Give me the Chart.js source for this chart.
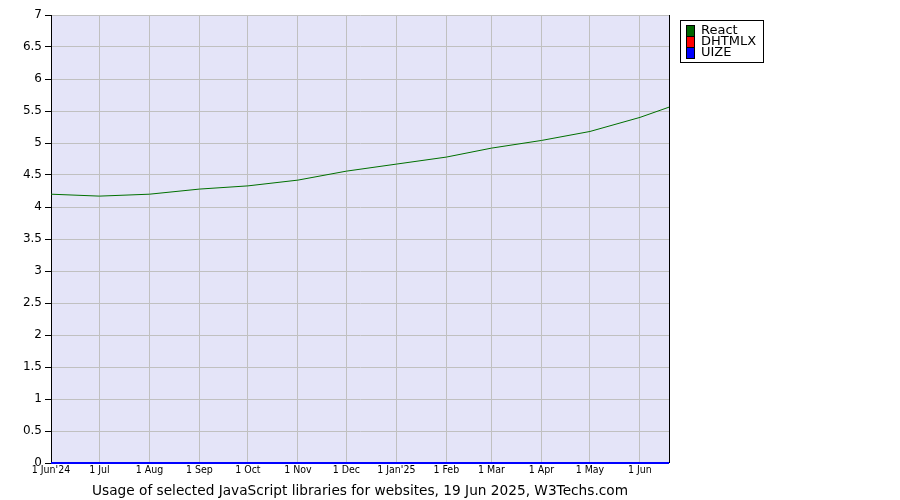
<head>
  <style>
    html,
    body {
      margin: 0;
      height: 100%;
      overflow: hidden;
      background: #fff;
    }
  </style>
</head>
<body>
  <canvas id="chart1" width="900" height="500"></canvas>
</body>
<script src="https://cdn.jsdelivr.net/npm/chart.js@4"></script>
<script>
  // days since 1 Jun 2024
  const days = [0, 30, 61, 92, 122, 153, 183, 214, 245, 273, 304, 334, 365, 383]
  const react = [4.2, 4.17, 4.2, 4.28, 4.33, 4.42, 4.56, 4.67, 4.78, 4.92, 5.04, 5.18, 5.4, 5.56]
  const dhtmlx = [0, 0, 0, 0, 0, 0, 0, 0, 0, 0, 0, 0, 0, 0]
  const uize = [0, 0, 0, 0, 0, 0, 0, 0, 0, 0, 0, 0, 0, 0]
  const monthDays = [0, 30, 61, 92, 122, 153, 183, 214, 245, 273, 304, 334, 365]
  const monthLabels = ['1 Jun\'24', '1 Jul', '1 Aug', '1 Sep', '1 Oct', '1 Nov', '1 Dec', '1 Jan\'25', '1 Feb', '1 Mar', '1 Apr', '1 May', '1 Jun']

  const pts = arr => arr.map((v, i) => ({ x: days[i], y: v }))

  const frame = {
    id: 'frame',
    beforeDraw(chart) {
      const { ctx, chartArea: a } = chart
      ctx.save()
      ctx.fillStyle = '#e4e4f8'
      ctx.fillRect(a.left, a.top, a.right - a.left, a.bottom - a.top)
      ctx.restore()
    },
    afterDraw(chart) {
      const { ctx, chartArea: a } = chart
      ctx.save()
      ctx.strokeStyle = '#000'
      ctx.lineWidth = 1
      ctx.beginPath()
      ctx.moveTo(a.right + 0.5, a.top)
      ctx.lineTo(a.right + 0.5, a.bottom)
      ctx.stroke()

      // legend box
      const x = 680.5, y = 20.5
      ctx.fillStyle = '#fff'
      ctx.fillRect(x, y, 83, 42)
      ctx.strokeRect(x, y, 83, 42)
      ctx.font = '13px "DejaVu Sans"'
      ctx.textBaseline = 'middle'
      chart.data.datasets.forEach((ds, i) => {
        const cy = 31 + i * 11
        ctx.fillStyle = ds.swatch
        ctx.fillRect(687, cy - 5, 7, 10)
        ctx.strokeStyle = '#000'
        ctx.strokeRect(686.5, cy - 5.5, 8, 11)
        ctx.fillStyle = '#000'
        ctx.fillText(ds.label, 701, cy)
      })
      ctx.restore()
    }
  }

  new Chart(document.getElementById('chart1'), {
    type: 'line',
    data: {
      datasets: [
        { label: 'React', data: pts(react), borderColor: '#007000', swatch: '#006600', borderWidth: 1, order: 3 },
        { label: 'DHTMLX', data: pts(dhtmlx), borderColor: '#ff0000', swatch: '#ff0000', borderWidth: 1, order: 2 },
        { label: 'UIZE', data: pts(uize), borderColor: '#0000ff', swatch: '#0000ff', borderWidth: 2, order: 1 }
      ].map(d => Object.assign(d, { pointRadius: 0, tension: 0, clip: false }))
    },
    options: {
      responsive: false,
      animation: false,
      layout: { padding: { left: 0, right: 231, top: 15, bottom: 0 } },
      plugins: {
        legend: { display: false },
        tooltip: { enabled: false }
      },
      scales: {
        x: {
          type: 'linear',
          min: 0,
          max: 383,
          afterBuildTicks: axis => {
            axis.ticks = monthDays.map(v => ({ value: v }))
          },
          afterFit: axis => {
            axis.height = 37
          },
          ticks: {
            autoSkip: false,
            maxRotation: 0,
            padding: 1,
            color: '#000',
            font: { family: 'DejaVu Sans Condensed', size: 10.5 },
            callback: (v, i) => monthLabels[i]
          },
          grid: { color: '#c0c0c0', drawTicks: false },
          border: { display: false },
          title: {
            display: true,
            text: 'Usage of selected JavaScript libraries for websites, 19 Jun 2025, W3Techs.com',
            color: '#000',
            font: { family: 'DejaVu Sans', size: 13.7 },
            padding: { top: 0, bottom: 0 }
          }
        },
        y: {
          min: 0,
          max: 7,
          afterFit: axis => {
            axis.width = 51
          },
          ticks: {
            stepSize: 0.5,
            autoSkip: false,
            color: '#000',
            padding: 3,
            font: { family: 'DejaVu Sans', size: 12 },
            callback: v => String(v)
          },
          grid: { color: '#c0c0c0', tickColor: '#000', tickLength: 6 },
          border: { color: '#000', width: 1 }
        }
      }
    },
    plugins: [frame]
  })
</script>
